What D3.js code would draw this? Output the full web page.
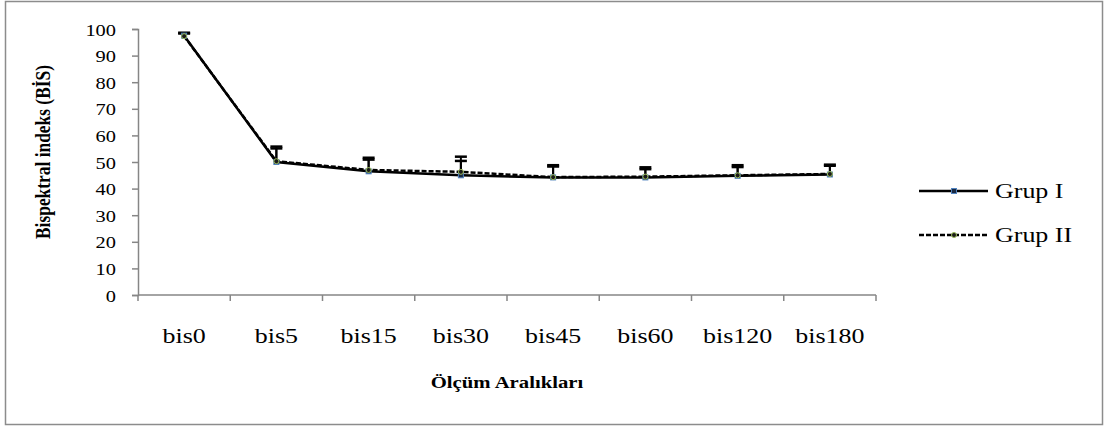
<!DOCTYPE html>
<html>
<head>
<meta charset="utf-8">
<script src="https://cdn.jsdelivr.net/npm/d3@7"></script>
<style>
  body { margin: 0; background: #fff; }
  text { font-family: "Liberation Serif", "Times New Roman", serif; fill: #000; }
</style>
</head>
<body>
<svg class="chart"></svg>
<script>
// categories and values
const categories = ["bis0", "bis5", "bis15", "bis30", "bis45", "bis60", "bis120", "bis180"];
const grupI = [97.5, 50.0, 46.5, 45.0, 44.2, 44.2, 44.8, 45.3];
const grupII = [97.3, 50.3, 47.0, 46.3, 44.3, 44.5, 45.0, 45.5];
// upper end of the error bars (mean + SD)
const grupIUpper = [98.6, 55.8, 51.6, 52.0, 48.8, 48.0, 48.8, 49.0];
const grupIIUpper = [98.3, 55.1, 50.9, 50.4, 48.3, 47.3, 48.1, 48.6];
const yTicks = [0, 10, 20, 30, 40, 50, 60, 70, 80, 90, 100];
const seriesNames = ["Grup I", "Grup II"];

const W = 1110, H = 430;
const margin = {top: 29, right: 234, bottom: 135, left: 138};
const width = W - margin.left - margin.right;
const height = H - margin.top - margin.bottom;

const svg = d3.select(".chart").attr("width", W).attr("height", H);

// outer frame
svg.append("rect")
  .attr("x", 5.5).attr("y", 1.5)
  .attr("width", 1097).attr("height", 423)
  .attr("fill", "none").attr("stroke", "#8c8c8c").attr("stroke-width", 1.5);

const g = svg.append("g").attr("transform", "translate(" + margin.left + "," + margin.top + ")");

const x = d3.scaleBand().domain(categories).range([0, width]);
const y = d3.scaleLinear().domain([0, 100]).range([height, 0]);
const cx = d => x(d) + x.bandwidth() / 2;

const axisColor = "#868686";

// y axis
const yAxis = g.append("g")
  .call(d3.axisLeft(y).tickValues(yTicks).tickSize(6).tickFormat(d3.format("d")));
yAxis.attr("font-family", null).attr("font-size", null);
yAxis.select(".domain").attr("stroke", axisColor).attr("stroke-width", 1.5);
yAxis.selectAll(".tick line").attr("stroke", axisColor).attr("stroke-width", 1.5);
yAxis.selectAll(".tick text")
  .attr("x", null).attr("dy", null)
  .attr("transform", "translate(-22,6) scale(1.2,1)")
  .style("font-size", "17px");

// x axis: ticks at category boundaries
const xAxis = g.append("g").attr("transform", "translate(0," + height + ")");
xAxis.append("line")
  .attr("x1", 0).attr("x2", width).attr("y1", 0).attr("y2", 0)
  .attr("stroke", axisColor).attr("stroke-width", 1.5);
xAxis.selectAll(".bound")
  .data(categories.map(c => x(c)).concat([width]))
  .enter().append("line")
  .attr("x1", d => d).attr("x2", d => d)
  .attr("y1", 0).attr("y2", 6)
  .attr("stroke", axisColor).attr("stroke-width", 1.5);
xAxis.selectAll(".lbl")
  .data(categories)
  .enter().append("text")
  .attr("transform", d => "translate(" + cx(d) + ",48) scale(1.18,1)")
  .attr("text-anchor", "middle")
  .style("font-size", "22px")
  .text(d => d);

// axis titles
svg.append("text")
  .attr("transform", "translate(507,388) scale(1.22,1)")
  .attr("text-anchor", "middle")
  .style("font-size", "17px").style("font-weight", "bold")
  .text("Ölçüm Aralıkları");

svg.append("text")
  .attr("transform", "translate(50,152) rotate(-90)")
  .attr("text-anchor", "middle")
  .attr("textLength", 174).attr("lengthAdjust", "spacingAndGlyphs")
  .style("font-size", "20px").style("font-weight", "bold")
  .text("Bispektral indeks (BİS)");

// error bars (upper only)
const drawErr = (vals, upper) => {
  const eb = g.append("g");
  categories.forEach((c, i) => {
    eb.append("line")
      .attr("x1", cx(c)).attr("x2", cx(c))
      .attr("y1", y(vals[i])).attr("y2", y(upper[i]))
      .attr("stroke", "#000").attr("stroke-width", 2);
    eb.append("line")
      .attr("x1", cx(c) - 6).attr("x2", cx(c) + 6)
      .attr("y1", y(upper[i])).attr("y2", y(upper[i]))
      .attr("stroke", "#000").attr("stroke-width", 2.5);
  });
};
drawErr(grupI, grupIUpper);
drawErr(grupII, grupIIUpper);

const line = d3.line().x((d, i) => cx(categories[i])).y(d => y(d));

g.append("path").datum(grupII)
  .attr("d", line).attr("fill", "none")
  .attr("stroke", "#000").attr("stroke-width", 2.5).attr("stroke-dasharray", "5,2");

g.append("path").datum(grupI)
  .attr("d", line).attr("fill", "none")
  .attr("stroke", "#000").attr("stroke-width", 2.5);

// markers
const drawSquare = (sel, px, py) => sel.append("rect")
  .attr("x", px - 2.5).attr("y", py - 2.5).attr("width", 5).attr("height", 5)
  .attr("fill", "#1b2a44").attr("stroke", "#4f81bd").attr("stroke-width", 1);
const drawDot = (sel, px, py) => sel.append("circle")
  .attr("cx", px).attr("cy", py).attr("r", 2.5)
  .attr("fill", "#1a1a1a").attr("stroke", "#9bbb59").attr("stroke-width", 1);

grupI.forEach((v, i) => drawSquare(g, cx(categories[i]), y(v)));
grupII.forEach((v, i) => drawDot(g, cx(categories[i]), y(v)));

// legend
const legend = svg.append("g");
seriesNames.forEach((name, i) => {
  const ly = 191 + i * 44;
  legend.append("line")
    .attr("x1", 919).attr("x2", 988).attr("y1", ly).attr("y2", ly)
    .attr("stroke", "#000").attr("stroke-width", 2.5)
    .attr("stroke-dasharray", i === 1 ? "5,2" : null);
  if (i === 0) drawSquare(legend, 954, ly); else drawDot(legend, 954, ly);
  legend.append("text")
    .attr("transform", "translate(995," + (ly + 7) + ") scale(1.18,1)")
    .style("font-size", "22px")
    .text(name);
});
</script>
</body>
</html>
